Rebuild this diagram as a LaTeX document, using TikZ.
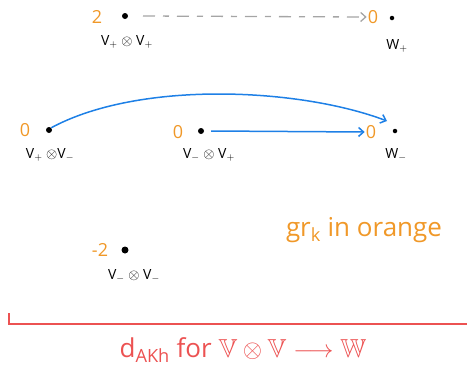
\documentclass[tikz,border=0pt]{standalone}
\usepackage{fontspec}
\setmainfont{Open Sans}
\usepackage{amssymb}
\usetikzlibrary{arrows.meta,positioning}
\definecolor{GrOrange}{RGB}{240,152,40}
\definecolor{MapBlue}{RGB}{30,128,230}
\definecolor{DiffRed}{RGB}{236,82,82}
\definecolor{DashGray}{RGB}{165,165,165}

\begin{document}
\begin{tikzpicture}[x=1pt,y=-1pt,
  gen/.style={circle,fill=black,inner sep=0pt,minimum size=6pt},
  grade/.style={text=GrOrange,font=\fontsize{18}{18}\selectfont,inner sep=1pt},
  lbl/.style={font=\fontsize{14}{14}\selectfont,inner sep=1pt},
  map/.style={MapBlue,line width=1.5pt,-{Straight Barb[length=5pt,width=9pt]}},
]
\useasboundingbox (0,0) rectangle (467,367);
% top row: V+ (x) V+ and W+
\node[grade] (ppgr) at (97,17)  {2};
\node[gen]   (pp)   at (125,16) {};
\node[lbl]   (ppl)  at (127,42) {V$_+$ $\otimes$ V$_+$};
\node[grade] (wpgr) at (373,17) {0};
\node[gen,minimum size=4.5pt] (wp) at (392,18) {};
\node[lbl]   (wpl)  at (397,46) {W$_+$};
\draw[DashGray,line width=1.3pt,dash pattern=on 12pt off 8pt on 6pt off 8pt,
  -{Straight Barb[length=5pt,width=9pt]}] (pp) ++(18,0) coordinate (dstart)
  (dstart) -- (wpgr.west);
% middle row
\node[grade] (pmgr) at (25,130)  {0};
\node[gen]   (pm)   at (49,130)  {};
\node[lbl]   (pml)  at (50,155)  {V$_+$ $\otimes$V$_-$};
\node[grade] (mpgr) at (178,132) {0};
\node[gen]   (mp)   at (201,131) {};
\node[lbl]   (mpl)  at (209,155) {V$_-$ $\otimes$ V$_+$};
\node[grade] (wmgr) at (371,132) {0};
\node[gen,minimum size=4.5pt] (wm) at (395,131) {};
\node[lbl]   (wml)  at (396,155) {W$_-$};
\coordinate (curveend) at (387,121);
\draw[map] (pm.north east) .. controls (140,80) and (300,88) .. (curveend);
\draw[map] (mp.east) ++(7,0) -- (wmgr.west);
% bottom
\node[grade] (mmgr) at (100,250) {-2};
\node[gen,minimum size=7pt] (mm) at (125,250) {};
\node[lbl]   (mml)  at (134,276) {V$_-$ $\otimes$ V$_-$};
\node[text=GrOrange,font=\fontsize{26}{26}\selectfont] (note) at (364,230) {gr\textsubscript{k} in orange};
% differential
\coordinate (tick) at (9,313);
\coordinate (lineend) at (467,324);
\draw[DiffRed,line width=1.5pt] (tick) |- (lineend);
\node[text=DiffRed,font=\fontsize{26}{26}\selectfont] (dakh) at (243,350)
  {d\textsubscript{AKh} for $\mathbb{V}\otimes\mathbb{V}\longrightarrow\mathbb{W}$};
\end{tikzpicture}
\end{document}
